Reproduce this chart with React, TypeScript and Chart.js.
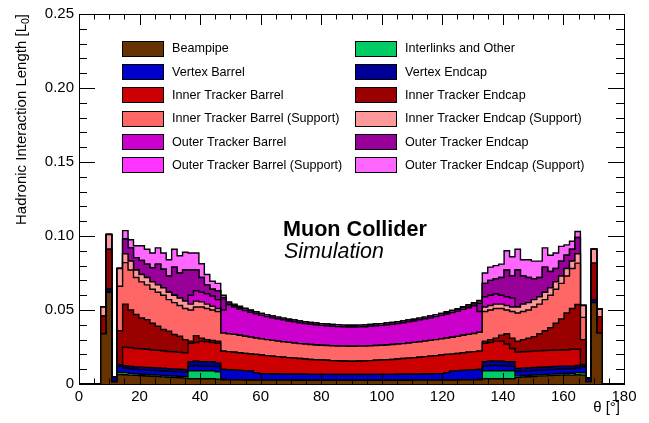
import React, { useEffect, useRef } from "react";
import { Chart, registerables } from "chart.js";

Chart.register(...registerables);

// Histogram binning: 100 bins of 1.8 deg over 0..180, filled bins 4..95
const FIRST_EDGE = 7.2;
const BIN_WIDTH = 1.8;
const X_MIN = 0;
const X_MAX = 180;
const Y_MIN = 0;
const Y_MAX = 0.25;
const X_STEP = 20;
const Y_STEP = 0.05;

// Per-layer hadronic interaction length for bins 7.2-9.0, 9.0-10.8, ... 171.0-172.8 deg
const beampipe = [
  0.034, 0.062, 0.0015, 0.0064, 0.0063, 0.006, 0.0058, 0.0056, 0.0054, 0.0052, 0.005, 0.0048, 0.0046, 0.0044, 0.0042, 0.004, 0.0035, 0.0035, 0.0035, 0.0035, 0.0035, 0.0033, 0.0028,
  0.0028, 0.0028, 0.0028, 0.0027, 0.0027, 0.0027, 0.0027, 0.0026, 0.0026, 0.0026, 0.0026, 0.0026, 0.0025, 0.0025, 0.0025, 0.0025, 0.0025, 0.0025, 0.0025, 0.0025, 0.0025, 0.0025, 0.0025,
  0.0025, 0.0025, 0.0025, 0.0025, 0.0025, 0.0025, 0.0025, 0.0025, 0.0025, 0.0025, 0.0025, 0.0026, 0.0026, 0.0026, 0.0026, 0.0026, 0.0027, 0.0027, 0.0027, 0.0027, 0.0028, 0.0028, 0.0028,
  0.0028, 0.0035, 0.0035, 0.0035, 0.0035, 0.0035, 0.0035, 0.0045, 0.0047, 0.0049, 0.0051, 0.0053, 0.0055, 0.0057, 0.0059, 0.006, 0.0061, 0.006, 0.0063, 0.006, 0.0015, 0.055, 0.0345,
];
const interlinks = [
  0, 0, 0, 0.0015, 0.0015, 0.0012, 0.0011, 0.001, 0.001, 0.001, 0.001, 0.001, 0.001, 0.001, 0.001, 0.001, 0.0055, 0.0055, 0.0055, 0.0055, 0.0055, 0.005, 0.0004,
  0, 0, 0, 0, 0, 0, 0, 0, 0, 0, 0, 0, 0, 0, 0, 0, 0, 0, 0, 0, 0, 0, 0,
  0, 0, 0, 0, 0, 0, 0, 0, 0, 0, 0, 0, 0, 0, 0, 0, 0, 0, 0, 0, 0, 0, 0,
  0.0004, 0.0055, 0.0055, 0.0055, 0.0055, 0.0055, 0.0055, 0.001, 0.001, 0.001, 0.001, 0.001, 0.001, 0.001, 0.001, 0.0011, 0.0012, 0.0013, 0.0015, 0.0015, 0, 0, 0,
];
const vertexBarrel = [
  0, 0, 0, 0.004, 0.003, 0.003, 0.003, 0.003, 0.003, 0.003, 0.003, 0.003, 0.003, 0.003, 0.003, 0.003, 0.003, 0.0035, 0.003, 0.003, 0.003, 0.0035, 0.0066,
  0.0068, 0.0066, 0.0064, 0.0063, 0.0061, 0.0048, 0.0043, 0.0043, 0.0042, 0.0042, 0.0041, 0.0041, 0.0041, 0.0041, 0.0041, 0.004, 0.004, 0.004, 0.004, 0.0039, 0.0039, 0.0039, 0.0039,
  0.0039, 0.0039, 0.0039, 0.0039, 0.004, 0.004, 0.004, 0.004, 0.0041, 0.0041, 0.0041, 0.0041, 0.0041, 0.0042, 0.0042, 0.0043, 0.0043, 0.005, 0.006, 0.0062, 0.0064, 0.0066, 0.0068,
  0.0066, 0.003, 0.0035, 0.0035, 0.0035, 0.003, 0.003, 0.003, 0.003, 0.003, 0.003, 0.003, 0.003, 0.003, 0.003, 0.003, 0.003, 0.003, 0.003, 0.004, 0, 0, 0,
];
const vertexEndcap = [
  0, 0.002, 0.0035, 0.0011, 0.0015, 0.0016, 0.0017, 0.0018, 0.0018, 0.0018, 0.0018, 0.0018, 0.0018, 0.0018, 0.0018, 0.0018, 0.003, 0.003, 0.003, 0.003, 0.003, 0.0025, 0,
  0, 0, 0, 0, 0, 0, 0, 0, 0, 0, 0, 0, 0, 0, 0, 0, 0, 0, 0, 0, 0, 0, 0,
  0, 0, 0, 0, 0, 0, 0, 0, 0, 0, 0, 0, 0, 0, 0, 0, 0, 0, 0, 0, 0, 0, 0,
  0, 0.003, 0.003, 0.003, 0.003, 0.003, 0.003, 0.002, 0.002, 0.002, 0.002, 0.002, 0.002, 0.002, 0.002, 0.002, 0.0018, 0.0017, 0.0017, 0.0015, 0.0025, 0.002, 0,
];
const innerTrackerBarrel = [
  0, 0, 0, 0, 0.0125, 0.0127, 0.0124, 0.0124, 0.0123, 0.012, 0.012, 0.0119, 0.0116, 0.0116, 0.0115, 0.0112, 0.0125, 0.0125, 0.014, 0.0135, 0.013, 0.0132, 0.0124,
  0.0123, 0.0121, 0.0119, 0.0117, 0.0115, 0.0125, 0.0126, 0.0123, 0.012, 0.0117, 0.0114, 0.0111, 0.0109, 0.0106, 0.0103, 0.0101, 0.0099, 0.0097, 0.0095, 0.0094, 0.0093, 0.0091, 0.009,
  0.009, 0.0091, 0.0092, 0.0094, 0.0095, 0.0097, 0.0099, 0.0101, 0.0103, 0.0106, 0.0109, 0.0111, 0.0114, 0.0117, 0.012, 0.0123, 0.0126, 0.0123, 0.0115, 0.0117, 0.0119, 0.0121, 0.0123,
  0.0124, 0.0125, 0.0125, 0.0135, 0.0135, 0.012, 0.009, 0.0111, 0.0111, 0.0111, 0.0111, 0.0111, 0.0111, 0.0111, 0.0111, 0.0109, 0.0109, 0.0115, 0.011, 0, 0, 0, 0,
];
const innerTrackerEndcap = [
  0.012, 0.027, 0, 0.023, 0.0292, 0.0255, 0.023, 0.0208, 0.02, 0.018, 0.0162, 0.0143, 0.0137, 0.0116, 0.0108, 0.009, 0.0015, 0.0047, 0.002, 0.0015, 0.0015, 0.0015, 0,
  0, 0, 0, 0, 0, 0, 0, 0, 0, 0, 0, 0, 0, 0, 0, 0, 0, 0, 0, 0, 0, 0, 0,
  0, 0, 0, 0, 0, 0, 0, 0, 0, 0, 0, 0, 0, 0, 0, 0, 0, 0, 0, 0, 0, 0, 0,
  0, 0.0015, 0.002, 0.002, 0.004, 0.007, 0.007, 0.0074, 0.0082, 0.009, 0.0098, 0.0116, 0.0134, 0.0152, 0.018, 0.021, 0.025, 0.0275, 0.0302, 0.017, 0, 0.0247, 0.011,
];
const innerTrackerBarrelSupport = [
  0, 0, 0, 0.03, 0.028, 0.027, 0.025, 0.0244, 0.0235, 0.023, 0.023, 0.0232, 0.0213, 0.0216, 0.0207, 0.021, 0.021, 0.0193, 0.021, 0.021, 0.0205, 0.02, 0.0123,
  0.0121, 0.012, 0.0118, 0.0116, 0.0114, 0.0111, 0.0109, 0.0108, 0.0107, 0.0105, 0.0104, 0.0103, 0.0102, 0.0101, 0.0101, 0.0101, 0.01, 0.01, 0.01, 0.01, 0.01, 0.0101, 0.0101,
  0.0101, 0.0101, 0.01, 0.01, 0.01, 0.01, 0.01, 0.0101, 0.0101, 0.0101, 0.0102, 0.0103, 0.0104, 0.0105, 0.0107, 0.0108, 0.0109, 0.0111, 0.0114, 0.0116, 0.0118, 0.012, 0.0122,
  0.0128, 0.02, 0.02, 0.02, 0.018, 0.016, 0.018, 0.019, 0.019, 0.019, 0.02, 0.02, 0.021, 0.022, 0.023, 0.024, 0.025, 0.027, 0.028, 0.015, 0, 0, 0,
];
const innerTrackerEndcapSupport = [
  0.006, 0.01, 0, 0.012, 0.006, 0.006, 0.005, 0.005, 0.005, 0.005, 0.005, 0.005, 0.005, 0.005, 0.005, 0.005, 0.004, 0.004, 0.0035, 0.003, 0.0025, 0.002, 0,
  0, 0, 0, 0, 0, 0, 0, 0, 0, 0, 0, 0, 0, 0, 0, 0, 0, 0, 0, 0, 0, 0, 0,
  0, 0, 0, 0, 0, 0, 0, 0, 0, 0, 0, 0, 0, 0, 0, 0, 0, 0, 0, 0, 0, 0, 0,
  0, 0.003, 0.003, 0.003, 0.003, 0.003, 0.003, 0.004, 0.005, 0.005, 0.005, 0.005, 0.005, 0.005, 0.005, 0.005, 0.005, 0.005, 0.0063, 0.008, 0, 0.0093, 0.005,
];
const outerTrackerBarrel = [
  0, 0, 0, 0, 0, 0, 0, 0, 0, 0, 0, 0, 0, 0, 0, 0, 0.006, 0.007, 0.0065, 0.007, 0.007, 0.006, 0.0155,
  0.0195, 0.0185, 0.0178, 0.0173, 0.0168, 0.0163, 0.0159, 0.0155, 0.0152, 0.015, 0.0148, 0.0145, 0.0143, 0.0141, 0.0139, 0.0137, 0.0136, 0.0134, 0.0133, 0.0132, 0.0131, 0.013, 0.013,
  0.013, 0.013, 0.0131, 0.0132, 0.0133, 0.0134, 0.0136, 0.0137, 0.0139, 0.0141, 0.0143, 0.0145, 0.0148, 0.015, 0.0152, 0.0155, 0.0159, 0.0162, 0.0166, 0.017, 0.0175, 0.018, 0.0188,
  0.014, 0.007, 0.007, 0.007, 0.006, 0.006, 0.006, 0, 0, 0, 0, 0, 0, 0, 0, 0, 0, 0, 0, 0, 0, 0, 0,
];
const outerTrackerEndcap = [
  0, 0, 0, 0, 0.01, 0.009, 0.0084, 0.0094, 0.009, 0.0095, 0.014, 0.0125, 0.011, 0.019, 0.017, 0.021, 0.017, 0.014, 0.01, 0.006, 0.0045, 0.006, 0.0075,
  0, 0, 0, 0, 0, 0, 0, 0, 0, 0, 0, 0, 0, 0, 0, 0, 0, 0, 0, 0, 0, 0, 0,
  0, 0, 0, 0, 0, 0, 0, 0, 0, 0, 0, 0, 0, 0, 0, 0, 0, 0, 0, 0, 0, 0, 0,
  0.0055, 0.009, 0.01, 0.01, 0.012, 0.018, 0.015, 0.025, 0.019, 0.017, 0.014, 0.013, 0.017, 0.011, 0.009, 0.01, 0.009, 0.008, 0.011, 0, 0, 0, 0,
];
const outerTrackerBarrelSupport = [
  0, 0, 0, 0, 0, 0, 0, 0, 0, 0, 0, 0, 0, 0, 0, 0, 0, 0, 0, 0, 0, 0, 0.001,
  0.0012, 0.0012, 0.0012, 0.0012, 0.0012, 0.0012, 0.0012, 0.0012, 0.0012, 0.0012, 0.0012, 0.0012, 0.0012, 0.0012, 0.0012, 0.0012, 0.0012, 0.0012, 0.0012, 0.0012, 0.0012, 0.0012, 0.0012,
  0.0012, 0.0012, 0.0012, 0.0012, 0.0012, 0.0012, 0.0012, 0.0012, 0.0012, 0.0012, 0.0012, 0.0012, 0.0012, 0.0012, 0.0012, 0.0012, 0.0012, 0.0012, 0.0012, 0.0012, 0.0012, 0.0012, 0.0012,
  0.001, 0, 0, 0, 0, 0, 0, 0, 0, 0, 0, 0, 0, 0, 0, 0, 0, 0, 0, 0, 0, 0, 0,
];
const outerTrackerEndcapSupport = [
  0, 0, 0, 0, 0.0056, 0.0055, 0.008, 0.01, 0.01, 0.01, 0.011, 0.011, 0.011, 0.012, 0.0117, 0.012, 0.0115, 0.0115, 0.0093, 0.007, 0.0054, 0.005, 0.0015,
  0.0008, 0.0008, 0.0006, 0.0005, 0.0004, 0.0003, 0, 0, 0, 0, 0, 0, 0, 0, 0, 0, 0, 0, 0, 0, 0, 0, 0,
  0, 0, 0, 0, 0, 0, 0, 0, 0, 0, 0, 0, 0, 0, 0, 0, 0, 0.0003, 0.0004, 0.0005, 0.0006, 0.0008, 0.0008,
  0.001, 0.007, 0.009, 0.009, 0.009, 0.013, 0.013, 0.014, 0.011, 0.012, 0.012, 0.011, 0.013, 0.011, 0.0105, 0.01, 0.007, 0.0055, 0.004, 0, 0, 0, 0,
];

// Stack order (bottom to top) = legend order read row by row
const SERIES = [
  { label: "Beampipe", color: "#663300", data: beampipe },
  { label: "Interlinks and Other", color: "#00CC66", data: interlinks },
  { label: "Vertex Barrel", color: "#0000CC", data: vertexBarrel },
  { label: "Vertex Endcap", color: "#000099", data: vertexEndcap },
  { label: "Inner Tracker Barrel", color: "#CC0000", data: innerTrackerBarrel },
  { label: "Inner Tracker Endcap", color: "#990000", data: innerTrackerEndcap },
  { label: "Inner Tracker Barrel (Support)", color: "#FF6666", data: innerTrackerBarrelSupport },
  { label: "Inner Tracker Endcap (Support)", color: "#FF9999", data: innerTrackerEndcapSupport },
  { label: "Outer Tracker Barrel", color: "#CC00CC", data: outerTrackerBarrel },
  { label: "Outer Tracker Endcap", color: "#990099", data: outerTrackerEndcap },
  { label: "Outer Tracker Barrel (Support)", color: "#FF33FF", data: outerTrackerBarrelSupport },
  { label: "Outer Tracker Endcap (Support)", color: "#FF66FF", data: outerTrackerEndcapSupport },
];

const FONT = "'Liberation Sans', Arial, Helvetica, sans-serif";

function buildPoints(values: number[]) {
  const pts: { x: number; y: number }[] = [{ x: X_MIN, y: 0 }];
  values.forEach((v, i) => pts.push({ x: +(FIRST_EDGE + i * BIN_WIDTH).toFixed(3), y: v ?? 0 }));
  pts.push({ x: +(FIRST_EDGE + values.length * BIN_WIDTH).toFixed(3), y: 0 });
  pts.push({ x: X_MAX, y: 0 });
  return pts;
}

const overlay = {
  id: "rootStyle",
  afterDraw(chart: any) {
    const { ctx, chartArea } = chart;
    const { left, right, top, bottom } = chartArea;
    const xs = chart.scales.x;
    const ys = chart.scales.y;
    ctx.save();
    ctx.strokeStyle = "#000";
    ctx.lineWidth = 1;
    // frame
    ctx.strokeRect(Math.round(left) + 0.5, Math.round(top) + 0.5, Math.round(right - left), Math.round(bottom - top));
    // x ticks (inward, bottom and top)
    ctx.beginPath();
    for (let v = X_MIN; v <= X_MAX + 1e-9; v += 5) {
      const px = Math.round(xs.getPixelForValue(v)) + 0.5;
      const len = v % X_STEP === 0 ? 11 : 5.5;
      ctx.moveTo(px, bottom);
      ctx.lineTo(px, bottom - len);
      ctx.moveTo(px, top);
      ctx.lineTo(px, top + len);
    }
    // y ticks (inward, left and right)
    for (let k = 0; k <= 25; k++) {
      const v = k * 0.01;
      const py = Math.round(ys.getPixelForValue(v)) + 0.5;
      const len = k % 5 === 0 ? 16 : 8;
      ctx.moveTo(left, py);
      ctx.lineTo(left + len, py);
      ctx.moveTo(right, py);
      ctx.lineTo(right - len, py);
    }
    ctx.stroke();

    // legend
    ctx.font = `12.6px ${FONT}`;
    ctx.textBaseline = "middle";
    ctx.textAlign = "left";
    SERIES.forEach((s, i) => {
      const row = Math.floor(i / 2);
      const col = i % 2;
      const cy = 48.3 + row * 23.33;
      const bx = col === 0 ? 122 : 355;
      const tx = col === 0 ? 172 : 405;
      ctx.fillStyle = s.color;
      ctx.fillRect(bx, Math.round(cy - 7.5), 41, 15);
      ctx.strokeStyle = "#000";
      ctx.strokeRect(bx + 0.5, Math.round(cy - 7.5) + 0.5, 41, 15);
      ctx.fillStyle = "#000";
      ctx.fillText(s.label, tx, cy + 0.5);
    });

    // label
    ctx.textBaseline = "alphabetic";
    ctx.fillStyle = "#000";
    ctx.font = `bold 21.6px ${FONT}`;
    ctx.fillText("Muon Collider", 283, 236);
    ctx.font = `italic 21.4px ${FONT}`;
    ctx.fillText("Simulation", 284, 258);

    // x title
    ctx.font = `15px ${FONT}`;
    ctx.textAlign = "right";
    ctx.textBaseline = "middle";
    ctx.fillText("\u03b8 [\u00b0]", 620, 408);

    // y title (rotated, right aligned at top)
    ctx.save();
    ctx.translate(22, 14);
    ctx.rotate(-Math.PI / 2);
    ctx.textAlign = "left";
    ctx.textBaseline = "middle";
    const main = "Hadronic Interaction Length [L";
    ctx.font = `15px ${FONT}`;
    const w1 = ctx.measureText(main).width;
    ctx.font = `10.5px ${FONT}`;
    const w2 = ctx.measureText("0").width;
    ctx.font = `15px ${FONT}`;
    const w3 = ctx.measureText("]").width;
    const total = w1 + w2 + w3;
    let x0 = -total;
    ctx.fillText(main, x0, 0);
    x0 += w1;
    ctx.font = `10.5px ${FONT}`;
    ctx.fillText("0", x0, 4);
    x0 += w2;
    ctx.font = `15px ${FONT}`;
    ctx.fillText("]", x0, 0);
    ctx.restore();

    ctx.restore();
  },
};

export default function App() {
  const ref = useRef<HTMLCanvasElement>(null);
  useEffect(() => {
    const canvas = ref.current;
    if (!canvas) return;
    const datasets = SERIES.map((s, i) => ({
      label: s.label,
      data: buildPoints(s.data),
      backgroundColor: s.color,
      borderColor: "#000",
      borderWidth: 1.4,
      fill: i === 0 ? "origin" : "-1",
      stepped: "before" as const,
      pointRadius: 0,
      tension: 0,
    }));
    const chart = new Chart(canvas, {
      type: "line",
      data: { datasets },
      options: {
        responsive: false,
        animation: false,
        events: [],
        layout: { padding: { left: 0, right: 25, top: 14, bottom: 0 } },
        plugins: { legend: { display: false }, tooltip: { enabled: false } },
        scales: {
          x: {
            type: "linear",
            min: X_MIN,
            max: X_MAX,
            grid: { display: false, drawTicks: false },
            border: { display: false },
            ticks: { stepSize: X_STEP, color: "#000", font: { family: FONT, size: 15 }, padding: 4, maxRotation: 0, autoSkip: false },
            afterFit: (s: any) => {
              s.height = 39;
            },
          },
          y: {
            type: "linear",
            stacked: true,
            min: Y_MIN,
            max: Y_MAX,
            grid: { display: false, drawTicks: false },
            border: { display: false },
            ticks: { stepSize: Y_STEP, color: "#000", font: { family: FONT, size: 15 }, padding: 5 },
            afterFit: (s: any) => {
              s.width = 79;
            },
          },
        },
      } as any,
      plugins: [overlay],
    });
    return () => chart.destroy();
  }, []);
  return (
    <div style={{ position: "absolute", left: 0, top: 0, width: 649, height: 423, background: "#fff" }}>
      <canvas ref={ref} width={649} height={423} style={{ display: "block", width: 649, height: 423 }} />
    </div>
  );
}
